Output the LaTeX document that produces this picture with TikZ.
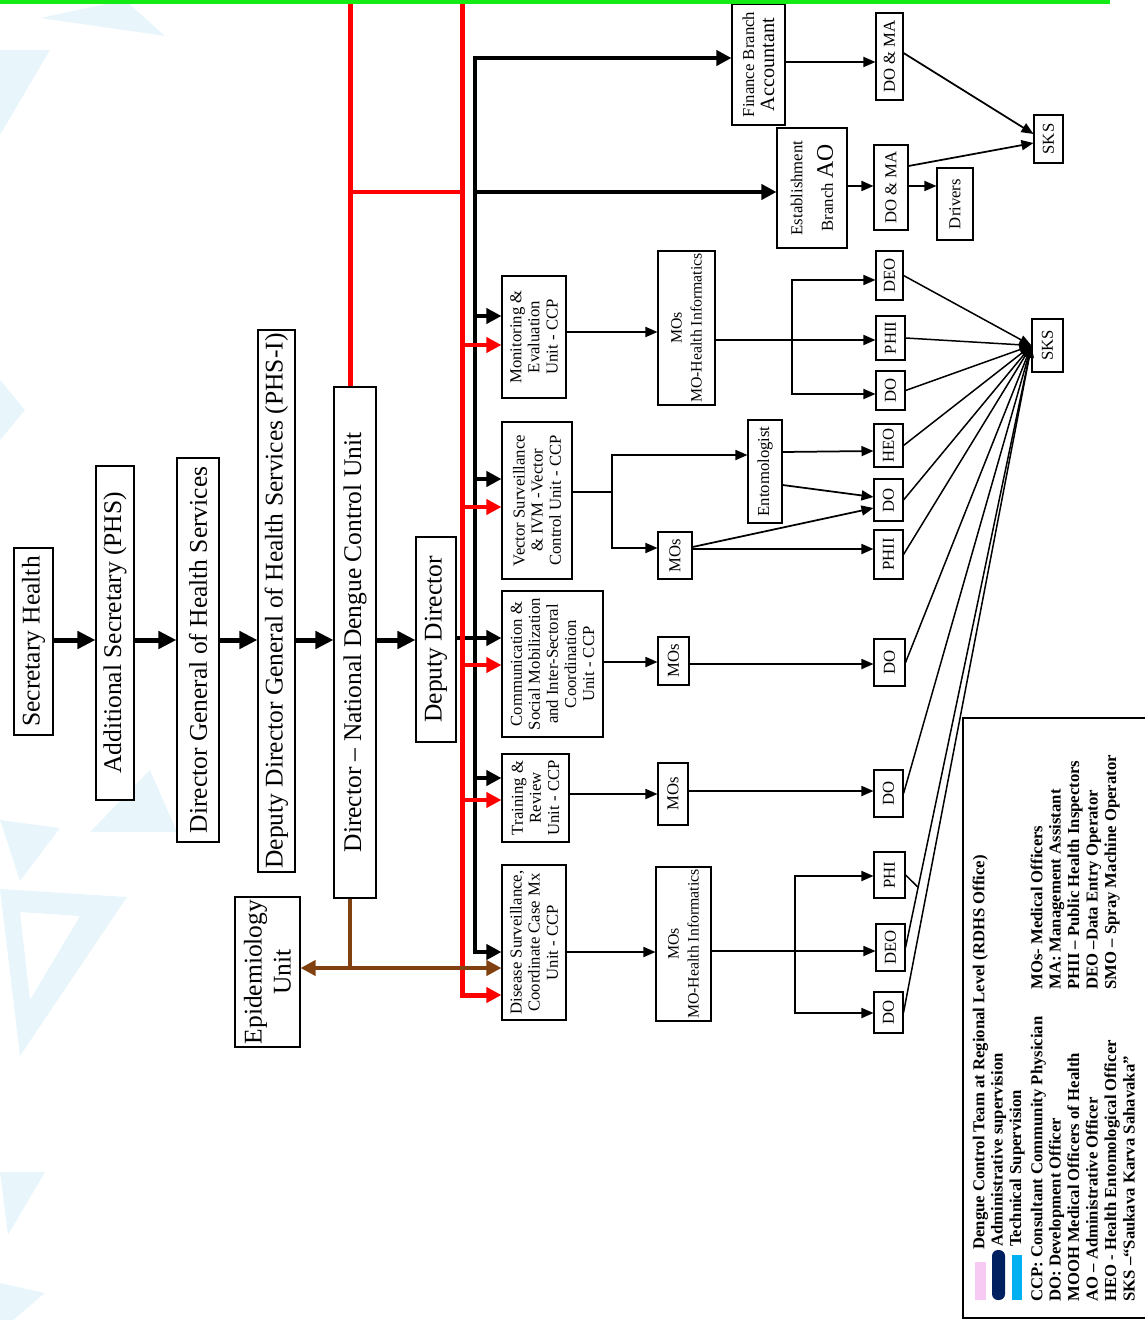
\documentclass[tikz,border=0pt]{standalone}
\usepackage{fontspec}
\setmainfont{Liberation Serif}
\usetikzlibrary{arrows.meta,calc}
\definecolor{brown2}{RGB}{128,64,16}
\definecolor{green2}{RGB}{20,235,20}
\definecolor{navy}{RGB}{0,32,96}
\definecolor{sky}{RGB}{0,176,240}
\definecolor{pink2}{RGB}{246,202,242}
\definecolor{wm}{RGB}{232,246,252}

\begin{document}
\begin{tikzpicture}[x=0.2mm,y=-0.2mm,>={Triangle[length=3mm,width=3mm]},
    bx/.style={draw,line width=0.6pt,fill=white,rotate=90,inner sep=0pt,align=center},
    big/.style={bx,font=\fontsize{14.5}{16.5}\selectfont},
    ut/.style={bx,font=\fontsize{9.5}{10.3}\selectfont},
    sm/.style={bx,font=\fontsize{9.5}{11.4}\selectfont},
    chain/.style={line width=1mm,-{Triangle[length=3.6mm,width=3.4mm]}},
    bus/.style={line width=0.9mm},
    busar/.style={bus,->},
    rd/.style={line width=1mm,red},
    brn/.style={line width=0.8mm,brown2},
    ar/.style={line width=0.35mm,-{Triangle[length=2.4mm,width=2mm]}},
    ar2/.style={line width=0.35mm,{Triangle[length=2.4mm,width=2mm]}-{Triangle[length=2.4mm,width=2mm]}},
    sk/.style={line width=0.3mm,-{Triangle[length=2.4mm,width=1.8mm]}}]

\useasboundingbox (0,0) rectangle (1144,1320);

% faint background
\fill[wm] (40,18) -- (165,36) -- (125,0) -- cycle;
\fill[wm] (0,50) -- (50,50) -- (0,135) -- cycle;
\fill[wm] (0,380) -- (25,410) -- (0,440) -- cycle;
\fill[wm] (0,820) -- (60,828) -- (20,881) -- cycle;
\fill[wm] (90,832) -- (177,832) -- (150,770) -- cycle;
\fill[wm,even odd rule] (0,889) -- (127,897) -- (20,1056) -- cycle (20,912) -- (80,916) -- (30,1000) -- cycle;
\fill[wm] (0,1172) -- (45,1172) -- (8,1235) -- cycle;
\fill[wm] (0,1283) -- (45,1293) -- (13,1320) -- (0,1320) -- cycle;

% ministry chain
\node[big,minimum width=37.4mm,minimum height=7.8mm] (sec) at (33.5,641.5) {Secretary Health};
\node[big,minimum width=66.8mm,minimum height=7.6mm] (addsec) at (115,633) {Additional Secretary (PHS)};
\node[big,minimum width=76.8mm,minimum height=8.4mm] (dg) at (198,650) {Director General of Health Services};
\node[big,minimum width=108.4mm,minimum height=7.4mm] (ddg) at (276.5,601) {Deputy Director General of Health Services (PHS-I)};
\node[big,minimum width=102.2mm,minimum height=8.4mm] (dir) at (355,642.5) {Director -- National Dengue Control Unit};
\node[big,minimum width=41mm,minimum height=8mm] (dd) at (436,639.5) {Deputy Director};
\node[big,minimum width=30mm,minimum height=13mm] (epi) at (267.5,972) {Epidemiology\\Unit};

% units
\node[ut,minimum width=24.4mm,minimum height=12.8mm] (me) at (534,337) {Monitoring \&\\Evaluation\\Unit - CCP};
\node[ut,minimum width=31.4mm,minimum height=14mm] (vs) at (537,500.5) {Vector Surveillance\\\& IVM -Vector\\Control Unit - CCP};
\node[ut,minimum width=29.2mm,minimum height=20.2mm] (cm) at (552.5,664) {Communication \&\\Social Mobilization\\and Inter-Sectoral\\Coordination\\Unit - CCP};
\node[ut,minimum width=17.6mm,minimum height=13.4mm] (tr) at (535.5,798) {Training \&\\Review\\Unit - CCP};
\node[ut,minimum width=31mm,minimum height=12.8mm] (ds) at (534,942.5) {Disease Surveillance,\\Coordinate Case Mx\\Unit - CCP};
\node[sm,minimum width=24.2mm,minimum height=10.6mm] (fin) at (758.5,64.5) {Finance Branch\\{\fontsize{11.5}{12}\selectfont Accountant}};
\node[sm,minimum width=24mm,minimum height=14mm] (est) at (812,188) {Establishment\\[6pt]Branch {\fontsize{13.5}{14}\selectfont AO}};

% officers
\node[sm,font=\fontsize{9}{11.4}\selectfont,minimum width=30.8mm,minimum height=11.4mm] (mohi1) at (686.5,328) {MOs\\MO-Health Informatics};
\node[sm,minimum width=20.6mm,minimum height=6.8mm] (ento) at (765,471.5) {Entomologist};
\node[sm,minimum width=9.4mm,minimum height=6.8mm] (mos2) at (675,555.5) {MOs};
\node[sm,minimum width=9.6mm,minimum height=6.2mm] (mos3) at (673.5,661) {MOs};
\node[sm,minimum width=12.4mm,minimum height=6mm] (mos4) at (673,794) {MOs};
\node[sm,font=\fontsize{9}{11.4}\selectfont,minimum width=30.8mm,minimum height=11mm] (mohi5) at (683.5,944) {MOs\\MO-Health Informatics};

% field staff
\node[sm,minimum width=17.4mm,minimum height=5.4mm] (doma1) at (889.5,56.5) {DO \& MA};
\node[sm,minimum width=17mm,minimum height=6.8mm] (doma2) at (891,187.5) {DO \& MA};
\node[sm,minimum width=14.4mm,minimum height=7.2mm] (drv) at (955,204) {Drivers};
\node[sm,minimum width=9.8mm,minimum height=5.4mm] (deo1) at (889.5,275.5) {DEO};
\node[sm,minimum width=8.8mm,minimum height=5.8mm] (phii1) at (890.5,338) {PHII};
\node[sm,minimum width=7.8mm,minimum height=5.8mm] (do1) at (890.5,390.5) {DO};
\node[sm,minimum width=8.6mm,minimum height=5.8mm] (heo) at (888.5,445.5) {HEO};
\node[sm,minimum width=8.4mm,minimum height=5.8mm] (do2) at (888.5,500) {DO};
\node[sm,minimum width=9.8mm,minimum height=5.8mm] (phii2) at (888.5,554.5) {PHII};
\node[sm,minimum width=9.4mm,minimum height=6.2mm] (do3) at (889.5,662.5) {DO};
\node[sm,minimum width=9.4mm,minimum height=5.8mm] (do4) at (888.5,793.5) {DO};
\node[sm,minimum width=9.2mm,minimum height=6.2mm] (phi5) at (889.5,875) {PHI};
\node[sm,minimum width=9.4mm,minimum height=5.8mm] (deo5) at (890.5,947.5) {DEO};
\node[sm,minimum width=8.2mm,minimum height=5.8mm] (do5) at (888.5,1012.5) {DO};
\node[sm,minimum width=9.6mm,minimum height=5.8mm] (sks1) at (1048.5,139) {SKS};
\node[sm,minimum width=10.6mm,minimum height=6.2mm] (sks2) at (1047.5,345.5) {SKS};

% chain arrows
\foreach \a/\b in {sec/addsec,addsec/dg,dg/ddg,ddg/dir,dir/dd}
  \draw[chain] (\a.south |- 0,640) -- (\b.north |- 0,640);

% black administrative lines
\coordinate (bt) at (475,58);
\draw[bus,<->] (ds.north |- 0,952) -| (bt) -- (fin.north |- bt);
\draw[busar] (bt |- 0,192) -- (est.north |- 0,192);
\draw[busar] (dd.south |- 0,638) -- (cm.north |- 0,638);
\foreach \n/\y in {me/316,vs/479,tr/778}
  \draw[busar] (bt |- 0,\y) -- (\n.north |- 0,\y);

% red technical lines
\coordinate (ra) at (350,0);
\coordinate (rb) at (462,0);
\draw[rd] (ra) -- (ra |- dir.east);
\draw[rd,line width=0.8mm] (ra |- 0,192) -- (rb |- 0,192);
\draw[rd,->] (rb) |- (ds.north |- 0,995);
\foreach \n/\y in {me/345,vs/507,cm/665,tr/800}
  \draw[rd,line width=0.9mm,->] (rb |- 0,\y) -- (\n.north |- 0,\y);

% epidemiology
\draw[brn] (ra |- dir.west) -- (ra |- 0,968);
\draw[brn,<->] (epi.south |- 0,968) -- (ds.north |- 0,968);

% officer links
\draw[ar] (fin.south |- 0,62) -- (doma1.north |- 0,62);
\draw[ar] (est.south |- 0,186) -- (doma2.north |- 0,186);
\draw[ar] (doma2.south |- 0,186) -- (drv.north |- 0,186);
\draw[ar] (doma1.south |- 0,53) -- (sks1.north |- 0,134);
\draw[ar] (doma2.south |- 0,166) -- (sks1.north |- 0,143);
\draw[ar] (me.south |- 0,332) -- (mohi1.north |- 0,332);
\coordinate (j1) at (792,340);
\draw[ar] (mohi1.south |- j1) -- (phii1.north |- j1);
\draw[ar2] (deo1.north |- 0,280) -| (j1) |- (do1.north |- 0,394);
\coordinate (j2) at (612,492);
\draw[line width=0.35mm] (vs.south |- j2) -- (j2);
\draw[ar2] (ento.north |- 0,455) -| (j2) |- (mos2.north |- 0,548);
\draw[ar] (ento.south |- 0,452) -- (heo.north |- 0,451);
\draw[ar] (ento.south |- 0,485) -- (do2.north |- 0,497);
\draw[ar] (mos2.south |- 0,547) -- (do2.north |- 0,508);
\draw[ar] (mos2.south |- 0,549) -- (phii2.north |- 0,549);
\draw[ar] (cm.south |- 0,662) -- (mos3.north |- 0,662);
\draw[ar] (mos3.south |- 0,664) -- (do3.north |- 0,664);
\draw[ar] (tr.south |- 0,794) -- (mos4.north |- 0,794);
\draw[ar] (mos4.south |- 0,791) -- (do4.north |- 0,791);
\draw[ar] (ds.south |- 0,952) -- (mohi5.north |- 0,952);
\coordinate (j5) at (795,951);
\draw[ar] (mohi5.south |- j5) -- (deo5.north |- j5);
\draw[ar2] (phi5.north |- 0,876) -| (j5) |- (do5.north |- 0,1013);

% everyone reports to SKS
\foreach \n in {deo1,phii1,do1,heo,do2,phii2,do3,do4,deo5,do5}
  \draw[sk] (\n.south) -- (sks2.north);
\draw[line width=0.3mm] (phi5.south) -- ($(deo5.south)!0.1!(sks2.north)$);

\draw[green2,line width=0.9mm] (0,2) -- (1110,2);

% legend
\draw[line width=0.6pt] (963,718) rectangle (1150,1318);
\fill[pink2] (975,1262) rectangle (986,1300);
\fill[navy,rounded corners=1.2mm] (992,1250) rectangle (1005,1300);
\fill[sky] (1012,1255) rectangle (1022,1300);
\node[rotate=90,anchor=north west,inner sep=0pt,font=\bfseries\fontsize{9.5}{10.5}\selectfont] (leg) at (971,1302) {%
  \begin{tabular}{@{}p{62.4mm}@{}l@{}}
  \multicolumn{2}{@{}l@{}}{\hspace*{10.4mm}Dengue Control Team at Regional Level (RDHS Office)}\\
  \multicolumn{2}{@{}l@{}}{\hspace*{11mm}Administrative supervision}\\
  \multicolumn{2}{@{}l@{}}{\hspace*{11mm}Technical Supervision}\\[1.5pt]
  CCP: Consultant Community Physician & MOs- Medical Officers\\
  DO: Development Officer & MA: Management Assistant\\
  MOOH Medical Officers of Health & PHII – Public Health Inspectors\\
  AO – Administrative Officer & DEO –Data Entry Operator\\
  HEO - Health Entomological Officer & SMO – Spray Machine Operator\\
  SKS –“Saukava Karva Sahavaka” &
  \end{tabular}};
\end{tikzpicture}
\end{document}
